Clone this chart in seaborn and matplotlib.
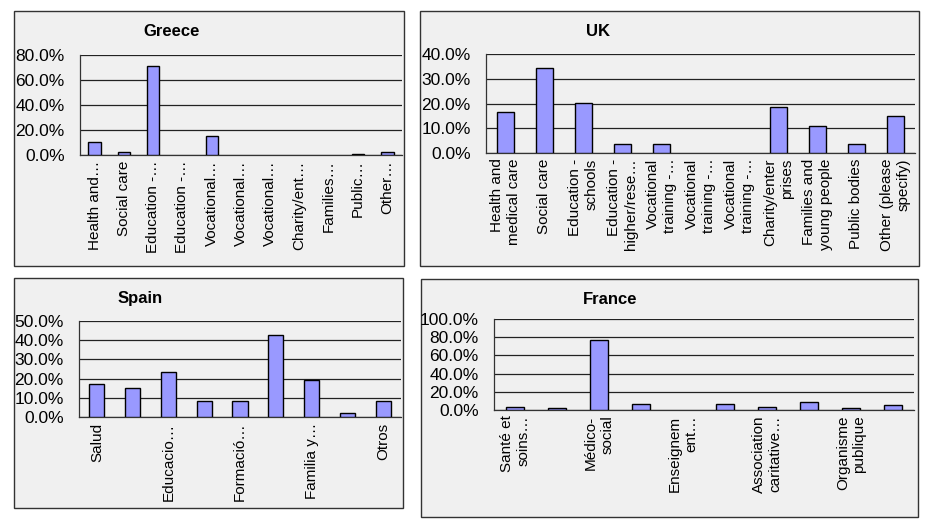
import matplotlib
matplotlib.use("Agg")
import matplotlib.pyplot as plt
import seaborn as sns
import numpy as np
from matplotlib.patches import Rectangle
from matplotlib.ticker import PercentFormatter

# data (percent)
greece_labels = ["Health and…", "Social care", "Education -…", "Education -…", "Vocational…",
                 "Vocational…", "Vocational…", "Charity/ent…", "Families…", "Public…", "Other…"]
greece_values = [10.8, 2.7, 71.0, 0.0, 15.0, 0.0, 0.0, 0.0, 0.0, 1.0, 2.7]

uk_labels = ["Health and\nmedical care", "Social care", "Education -\nschools", "Education -\nhigher/rese…",
             "Vocational\ntraining -…", "Vocational\ntraining -…", "Vocational\ntraining -…",
             "Charity/enter\nprises", "Families and\nyoung people", "Public bodies", "Other (please\nspecify)"]
uk_values = [16.5, 34.4, 20.2, 3.8, 3.8, 0.0, 0.0, 18.4, 11.1, 3.8, 14.8]

spain_labels = ["Salud", "", "Educacio…", "", "Formació…", "", "Familia y…", "", "Otros"]
spain_values = [17.0, 15.1, 23.6, 8.5, 8.5, 42.9, 19.3, 2.3, 8.5]

france_labels = ["Santé et\nsoins…", "", "Médico-\nsocial", "", "Enseignem\nent…", "",
                 "Association\ncaritative…", "", "Organisme\npublique", ""]
france_values = [3.8, 1.8, 76.6, 7.0, 0.0, 7.0, 3.6, 9.0, 1.8, 5.8]

sns.set_style("white")
plt.rcParams['font.family'] = ['Liberation Sans', 'DejaVu Sans']
plt.rcParams['text.color'] = 'black'
plt.rcParams['xtick.color'] = 'black'
plt.rcParams['ytick.color'] = 'black'
plt.rcParams['xtick.labelcolor'] = 'black'
plt.rcParams['ytick.labelcolor'] = 'black'

W, H = 925, 523
fig = plt.figure(figsize=(W / 100, H / 100), dpi=100)
fig.patch.set_facecolor("white")

bar_col = "#9999ff"
bg = "#f0f0f0"


def px_box(x0, y0, x1, y1):
    return [x0 / W, 1 - y1 / H, (x1 - x0) / W, (y1 - y0) / H]


def panel(frame, axbox, title, title_xy, labels, values, ymax, ystep):
    fx0, fy0, fx1, fy1 = frame
    fig.patches.append(Rectangle((fx0 / W, 1 - fy1 / H), (fx1 - fx0) / W, (fy1 - fy0) / H,
                                 transform=fig.transFigure, facecolor=bg, edgecolor="#333333",
                                 linewidth=1.0, zorder=-5))
    ax = fig.add_axes(px_box(*axbox))
    ax.set_facecolor(bg)
    n = len(values)
    # empty categories get no bar at all
    shown = [v if v > 0 else np.nan for v in values]
    sns.barplot(x=np.arange(n), y=shown, ax=ax, color=bar_col, width=0.42,
                edgecolor="black", linewidth=1.0, saturation=1, zorder=3)
    ax.set_xlim(-0.5, n - 0.5)
    ax.set_ylim(0, ymax)
    ax.set_yticks(np.arange(0, ymax + 0.1, ystep))
    ax.yaxis.set_major_formatter(PercentFormatter(decimals=1))
    ax.set_xticks(np.arange(n))
    ax.set_xticklabels(labels, rotation=90, fontsize=11, va="top", ha="center")
    for t in ax.get_xticklabels():
        t.set_multialignment("right")
    ax.set_xticks(np.arange(n + 1) - 0.5, minor=True)
    ax.tick_params(axis="x", which="major", length=0, pad=4)
    ax.tick_params(axis="x", which="minor", length=4, direction="out", width=0.8, color="#333333")
    ax.tick_params(axis="y", length=4, direction="out", labelsize=12.5, width=0.8, pad=7)
    ax.grid(axis="y", color="#222222", linewidth=0.9, zorder=1)
    ax.set_axisbelow(True)
    for s in ["top", "right"]:
        ax.spines[s].set_visible(False)
    for s in ["left", "bottom"]:
        ax.spines[s].set_color("#333333")
        ax.spines[s].set_linewidth(0.9)
    ax.set_xlabel("")
    ax.set_ylabel("")
    fig.text(title_xy[0] / W, 1 - title_xy[1] / H, title, fontsize=12, fontweight="bold",
             ha="center", va="center")
    return ax


panel((14, 11, 404, 266), (80, 55, 402, 155), "Greece", (172, 32),
      greece_labels, greece_values, 80, 20)
panel((420, 11, 919, 266), (486, 54, 915, 153), "UK", (598, 31),
      uk_labels, uk_values, 40, 10)
panel((14, 278, 403, 508), (79, 321, 401, 417), "Spain", (140, 299),
      spain_labels, spain_values, 50, 10)
panel((421, 279, 918, 517), (494, 319, 914, 410), "France", (610, 299),
      france_labels, france_values, 100, 20)

fig.savefig("out.png", dpi=100, facecolor="white")
